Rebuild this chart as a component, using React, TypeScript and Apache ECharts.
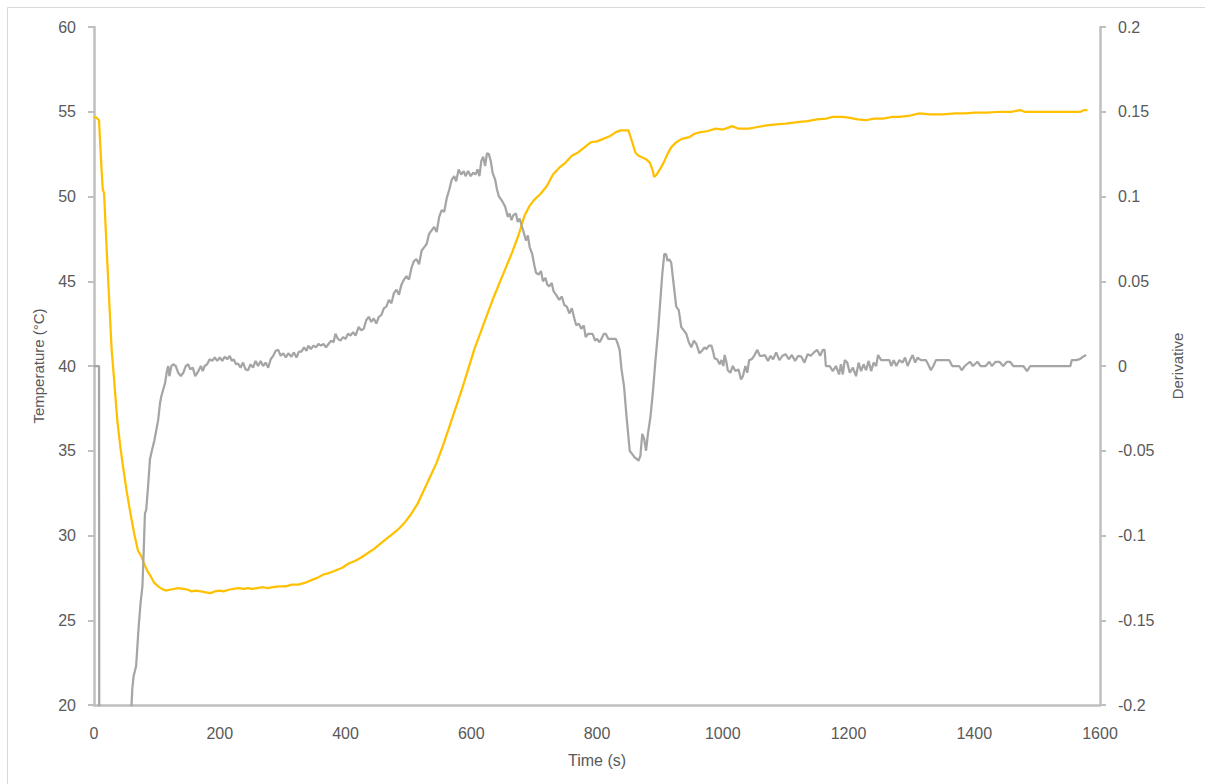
import React, { useEffect, useRef } from "react";
import * as echarts from "echarts";

const xTicks = [0, 200, 400, 600, 800, 1000, 1200, 1400, 1600];
const tempTicks = [20, 25, 30, 35, 40, 45, 50, 55, 60];
const derivTicks = [-0.2, -0.15, -0.1, -0.05, 0, 0.05, 0.1, 0.15, 0.2];

const tempTime = [
  0, 4, 8, 10, 12, 14, 16, 20, 24, 28, 32, 37, 42, 46, 52, 58, 64, 70, 75, 80, 85, 90, 96, 102, 108, 114, 120, 128, 134, 142,
  150, 155, 162, 170, 178, 185, 192, 200, 206, 214, 222, 230, 238, 245, 252, 260, 268, 276, 285, 294, 305, 315, 325, 335, 345,
  355, 365, 375, 385, 395, 405, 415, 425, 435, 445, 455, 465, 475, 485, 495, 505, 515, 525, 535, 545, 555, 565, 575, 585, 595,
  605, 615, 625, 635, 645, 655, 665, 675, 685, 692, 700, 710, 720, 730, 740, 750, 760, 770, 780, 790, 800, 810, 820, 830, 838,
  850, 856, 861, 866, 872, 878, 884, 888, 891, 895, 900, 906, 912, 918, 926, 935, 947, 955, 965, 975, 989, 1000, 1008, 1015,
  1025, 1042, 1055, 1070, 1085, 1100, 1122, 1135, 1150, 1165, 1175, 1190, 1200, 1215, 1228, 1240, 1255, 1270, 1281, 1295,
  1313, 1330, 1350, 1370, 1387, 1400, 1420, 1441, 1460, 1473, 1480, 1500, 1530, 1569, 1575, 1580,
];
const tempValue = [
  54.7, 54.65, 54.5, 53.0, 51.6, 50.4, 50.2, 47.0, 44.0, 41.0, 39.2, 36.8, 35.2, 34.1, 32.6, 31.3, 30.1, 29.1, 28.8, 28.3,
  27.9, 27.6, 27.2, 27.0, 26.85, 26.75, 26.8, 26.85, 26.9, 26.85, 26.8, 26.7, 26.75, 26.7, 26.65, 26.6, 26.7, 26.75, 26.7,
  26.8, 26.85, 26.9, 26.85, 26.9, 26.85, 26.9, 26.95, 26.9, 26.95, 27.0, 27.0, 27.1, 27.1, 27.2, 27.35, 27.5, 27.7, 27.8,
  27.95, 28.1, 28.35, 28.5, 28.7, 28.95, 29.2, 29.5, 29.8, 30.1, 30.4, 30.8, 31.3, 31.9, 32.7, 33.5, 34.3, 35.3, 36.4, 37.5,
  38.6, 39.8, 41.0, 42.0, 43.0, 44.0, 44.9, 45.8, 46.7, 47.7, 48.9, 49.4, 49.8, 50.15, 50.6, 51.3, 51.7, 52.0, 52.4, 52.6,
  52.9, 53.2, 53.25, 53.4, 53.55, 53.8, 53.9, 53.9, 53.2, 52.6, 52.4, 52.3, 52.2, 52.0, 51.6, 51.15, 51.3, 51.6, 52.0, 52.5,
  52.9, 53.2, 53.4, 53.5, 53.7, 53.8, 53.85, 54.0, 53.95, 54.05, 54.15, 54.0, 54.0, 54.1, 54.2, 54.25, 54.3, 54.4, 54.45,
  54.55, 54.6, 54.7, 54.7, 54.65, 54.55, 54.5, 54.6, 54.6, 54.7, 54.7, 54.75, 54.9, 54.85, 54.85, 54.9, 54.9, 54.95, 54.95,
  55.0, 55.0, 55.1, 55.0, 55.0, 55.0, 55.0, 55.1, 55.1,
];

const derivTime = [
  0, 8, 8.5, 30, 59, 61, 63, 67, 71, 74, 77, 79, 81, 83, 86, 89, 92, 96, 99, 102, 105, 107, 110, 113, 116, 118, 120, 123, 126,
  130, 134, 138, 142, 146, 150, 153, 157, 161, 166, 170, 173, 176, 180, 184, 188, 192, 196, 200, 204, 208, 212, 216, 219, 222,
  226, 229, 233, 237, 241, 245, 249, 253, 257, 261, 265, 269, 273, 277, 281, 285, 289, 293, 297, 301, 305, 309, 314, 318, 322,
  326, 330, 334, 338, 341, 345, 349, 353, 357, 361, 365, 369, 373, 377, 381, 384, 388, 392, 396, 400, 404, 408, 412, 416, 421,
  425, 429, 433, 437, 441, 445, 449, 453, 457, 461, 465, 469, 473, 477, 481, 485, 489, 493, 497, 501, 505, 509, 513, 517, 521,
  525, 529, 533, 537, 541, 545, 549, 553, 557, 561, 565, 569, 573, 576, 580, 584, 588, 591, 595, 599, 603, 607, 610, 613, 616,
  619, 622, 625, 628, 631, 634, 638, 641, 644, 648, 651, 654, 658, 661, 664, 667, 671, 674, 677, 680, 684, 687, 690, 693, 697,
  700, 703, 707, 711, 714, 718, 721, 724, 728, 731, 735, 740, 744, 748, 752, 756, 760, 764, 767, 771, 775, 779, 782, 786, 790,
  793, 797, 800, 804, 807, 811, 814, 818, 822, 826, 830, 833, 836, 839, 843, 847, 852, 856, 860, 864, 866, 869, 872, 875, 878,
  881, 885, 889, 893, 897, 901, 904, 907, 910, 912, 915, 918, 922, 926, 930, 934, 938, 942, 946, 950, 954, 958, 963, 967, 971,
  974, 978, 982, 985, 987, 991, 995, 998, 1001, 1003, 1006, 1008, 1012, 1016, 1020, 1025, 1029, 1032, 1036, 1039, 1042, 1046,
  1050, 1055, 1059, 1063, 1067, 1072, 1076, 1080, 1085, 1090, 1095, 1100, 1105, 1110, 1115, 1120, 1125, 1130, 1135, 1140,
  1145, 1150, 1155, 1159, 1162, 1164, 1170, 1175, 1180, 1185, 1188, 1191, 1194, 1198, 1202, 1207, 1212, 1216, 1220, 1224,
  1228, 1232, 1236, 1240, 1244, 1247, 1252, 1258, 1265, 1268, 1272, 1276, 1281, 1286, 1290, 1294, 1298, 1302, 1306, 1310,
  1315, 1320, 1323, 1328, 1331, 1335, 1339, 1345, 1350, 1355, 1360, 1365, 1371, 1376, 1380, 1385, 1393, 1398, 1405, 1410,
  1418, 1424, 1428, 1434, 1440, 1446, 1452, 1457, 1462, 1468, 1478, 1484, 1489, 1553, 1555, 1562, 1568, 1573, 1578,
];
const derivValue: (number | null)[] = [
  0, 0, -0.3, null, -0.205, -0.19, -0.183, -0.177, -0.154, -0.14, -0.13, -0.11, -0.087, -0.085, -0.071, -0.055, -0.05,
  -0.044, -0.038, -0.032, -0.022, -0.018, -0.014, -0.01, -0.003, 0, -0.006, 0, 0.001, 0, -0.004, -0.006, -0.004, 0, 0.001,
  -0.002, -0.001, -0.006, -0.003, 0, -0.003, 0, 0.001, 0.004, 0.003, 0.005, 0.003, 0.005, 0.003, 0.0055, 0.004, 0.006, 0.003,
  0.004, 0.001, 0.0015, -0.001, 0.002, -0.002, -0.0025, 0.001, -0.001, 0.003, 0, 0.003, 0, 0.002, -0.001, 0.004, 0.006, 0.009,
  0.0095, 0.006, 0.0075, 0.005, 0.0075, 0.0055, 0.008, 0.005, 0.0085, 0.0085, 0.011, 0.009, 0.012, 0.01, 0.012, 0.011, 0.013,
  0.012, 0.013, 0.011, 0.013, 0.015, 0.014, 0.019, 0.016, 0.015, 0.017, 0.016, 0.019, 0.018, 0.02, 0.018, 0.023, 0.021, 0.022,
  0.027, 0.029, 0.026, 0.028, 0.025, 0.029, 0.03, 0.034, 0.035, 0.039, 0.037, 0.043, 0.045, 0.042, 0.048, 0.051, 0.053, 0.051,
  0.058, 0.062, 0.063, 0.06, 0.068, 0.07, 0.072, 0.078, 0.08, 0.082, 0.079, 0.088, 0.092, 0.091, 0.099, 0.104, 0.11, 0.112,
  0.109, 0.116, 0.113, 0.115, 0.112, 0.115, 0.112, 0.114, 0.113, 0.116, 0.112, 0.121, 0.1235, 0.118, 0.1255, 0.125, 0.121,
  0.114, 0.11, 0.104, 0.1, 0.098, 0.096, 0.094, 0.088, 0.09, 0.086, 0.089, 0.09, 0.085, 0.087, 0.083, 0.078, 0.074, 0.077,
  0.07, 0.066, 0.06, 0.055, 0.054, 0.056, 0.05, 0.052, 0.048, 0.047, 0.049, 0.044, 0.042, 0.039, 0.041, 0.036, 0.035, 0.031,
  0.034, 0.028, 0.024, 0.025, 0.022, 0.024, 0.017, 0.019, 0.019, 0.019, 0.015, 0.016, 0.014, 0.016, 0.019, 0.019, 0.016,
  0.016, 0.016, 0.016, 0.013, 0.0095, -0.002, -0.012, -0.03, -0.05, -0.052, -0.054, -0.055, -0.056, -0.053, -0.04, -0.043,
  -0.05, -0.04, -0.03, -0.015, 0.0035, 0.02, 0.04, 0.055, 0.066, 0.066, 0.062, 0.063, 0.061, 0.048, 0.035, 0.033, 0.023,
  0.021, 0.019, 0.014, 0.011, 0.015, 0.013, 0.0075, 0.009, 0.011, 0.01, 0.012, 0.012, 0.008, 0.0045, 0.004, 0.001, 0.0035,
  0, 0.0065, 0.002, -0.0025, -0.004, 0, -0.003, -0.002, -0.008, -0.006, 0, -0.004, 0.0035, 0.004, 0.006, 0.0095, 0.006,
  0.006, 0.0065, 0.003, 0.006, 0.004, 0.008, 0.0035, 0.006, 0.007, 0.004, 0.0065, 0.003, 0.006, 0.0055, 0.002, 0.007, 0.006,
  0.008, 0.0095, 0.006, 0.0095, 0.0095, 0, 0, -0.003, 0, -0.005, 0.001, -0.005, 0.0035, 0.002, -0.004, -0.001, -0.006, 0.002,
  -0.003, 0.001, -0.0025, 0.003, -0.003, 0.002, 0, 0.0065, 0.0035, 0.0035, 0.0035, 0, 0.0035, 0, 0.0035, 0.002, 0.005, 0,
  0.0035, 0.0065, 0.002, 0.005, 0.0035, 0.0035, 0.0035, 0, -0.0025, 0, 0.0035, 0.0035, 0.0035, 0.0035, 0.0035, 0, 0, 0,
  -0.0025, 0, 0.0025, 0, 0.0025, 0, 0, 0.0025, 0, 0.0025, 0.0025, 0, 0.0025, 0.0025, 0, 0, 0, -0.003, 0, 0, 0.0035, 0.0035,
  0.004, 0.0055, 0.0065,
];

const TEXT = "#595959";
const AXIS = "#bfbfbf";
const FONT = "Liberation Sans";

export default function App() {
  const ref = useRef<HTMLDivElement>(null);
  useEffect(() => {
    if (!ref.current) return;
    const chart = echarts.init(ref.current, undefined, { renderer: "svg" });
    const tempData = tempTime.map((t, i) => [t, tempValue[i]]);
    const derivData = derivTime.map((t, i) => [t, derivValue[i] === null ? "-" : derivValue[i]]);
    const fmt = (v: number) => String(parseFloat(v.toFixed(2)));
    chart.setOption({
      animation: false,
      backgroundColor: "#ffffff",
      textStyle: { fontFamily: FONT },
      graphic: [
        {
          type: "rect",
          shape: { x: 7.5, y: 7.5, width: 1210, height: 800 },
          style: { fill: "none", stroke: "#d9d9d9", lineWidth: 1 },
          silent: true,
        },
      ],
      grid: { left: 94, right: 105, top: 27, bottom: 79, containLabel: false },
      xAxis: {
        type: "value",
        min: xTicks[0],
        max: xTicks[xTicks.length - 1],
        interval: 200,
        name: "Time (s)",
        nameLocation: "middle",
        nameGap: 47,
        nameTextStyle: { color: TEXT, fontSize: 16, fontFamily: FONT },
        axisLine: { show: true, onZero: false, lineStyle: { color: AXIS, width: 2.5 } },
        axisTick: { show: false },
        splitLine: { show: false },
        axisLabel: { color: TEXT, fontSize: 16, fontFamily: FONT, margin: 20, formatter: (v: number) => String(v) },
      },
      yAxis: [
        {
          type: "value",
          min: tempTicks[0],
          max: tempTicks[tempTicks.length - 1],
          interval: 5,
          name: "Temperature (°C)",
          nameLocation: "middle",
          nameGap: 48,
          nameRotate: 90,
          nameTextStyle: { color: TEXT, fontSize: 15, fontFamily: FONT },
          axisLine: { show: true, onZero: false, lineStyle: { color: AXIS, width: 2.5 } },
          axisTick: { show: true, length: 6, lineStyle: { color: AXIS, width: 2 } },
          splitLine: { show: false },
          axisLabel: { color: TEXT, fontSize: 16, fontFamily: FONT, margin: 18 },
        },
        {
          type: "value",
          min: derivTicks[0],
          max: derivTicks[derivTicks.length - 1],
          interval: 0.05,
          position: "right",
          name: "Derivative",
          nameLocation: "middle",
          nameGap: 70,
          nameRotate: 90,
          nameTextStyle: { color: TEXT, fontSize: 15, fontFamily: FONT },
          axisLine: { show: true, onZero: false, lineStyle: { color: AXIS, width: 2.5 } },
          axisTick: { show: true, length: 6, lineStyle: { color: AXIS, width: 2 } },
          splitLine: { show: false },
          axisLabel: { color: TEXT, fontSize: 16, fontFamily: FONT, margin: 18, formatter: fmt },
        },
      ],
      series: [
        {
          name: "Temperature",
          type: "line",
          yAxisIndex: 0,
          data: tempData,
          showSymbol: false,
          symbol: "none",
          lineStyle: { color: "#FFC000", width: 2.25 },
          itemStyle: { color: "#FFC000" },
        },
        {
          name: "Derivative",
          type: "line",
          yAxisIndex: 1,
          data: derivData,
          showSymbol: false,
          symbol: "none",
          connectNulls: false,
          lineStyle: { color: "#A5A5A5", width: 2.25 },
          itemStyle: { color: "#A5A5A5" },
        },
      ],
    });
    return () => chart.dispose();
  }, []);
  return (
    <div
      ref={ref}
      style={{ position: "fixed", left: 0, top: 0, width: 1205, height: 784 }}
    />
  );
}
